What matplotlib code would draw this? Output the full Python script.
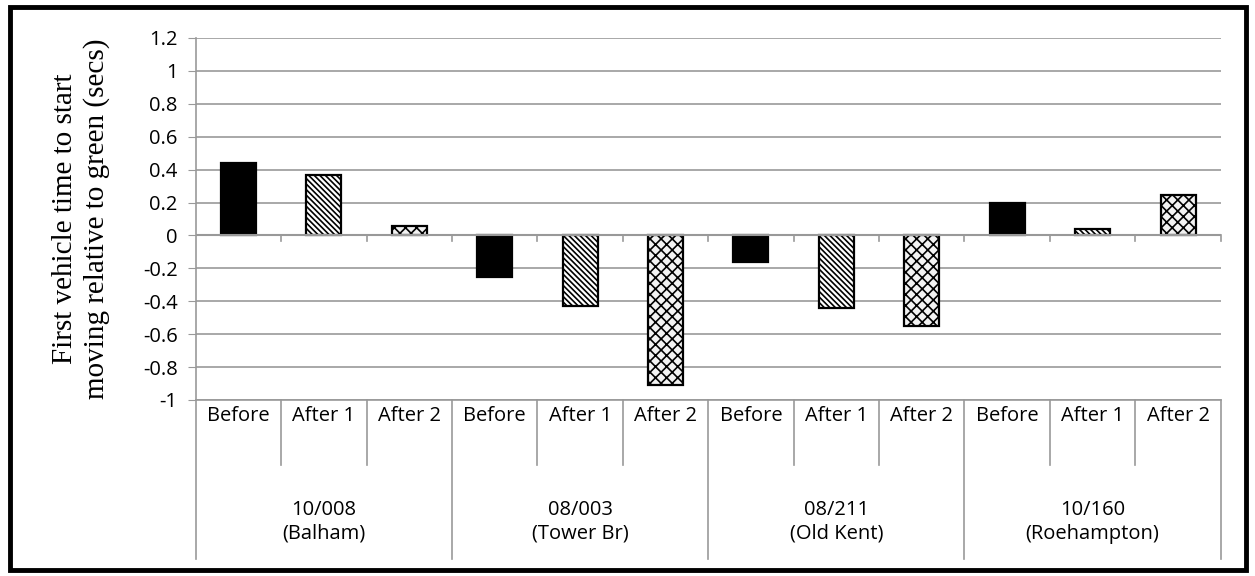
'''
Grouped bar chart of first vehicle start time
relative to green, recreated with matplotlib
'''

import numpy as np
import matplotlib.pyplot as plt
from matplotlib.patches import Rectangle

##################################

sites = ['10/008\n(Balham)', '08/003\n(Tower Br)', '08/211\n(Old Kent)', '10/160\n(Roehampton)']
phases = ['Before', 'After 1', 'After 2']

before = [0.44, -0.25, -0.16, 0.20]
after1 = [0.37, -0.43, -0.44, 0.04]
after2 = [0.055, -0.91, -0.55, 0.245]

yticks = [1.2, 1, 0.8, 0.6, 0.4, 0.2, 0, -0.2, -0.4, -0.6, -0.8, -1]

##################################

plt.rcParams['font.family'] = ['Open Sans', 'DejaVu Sans']
plt.rcParams['hatch.linewidth'] = 1.2

fig = plt.figure(figsize=(12.55, 5.76), dpi=100)
ax = fig.add_axes([0.156, 0.3056, 0.8167, 0.6285])

grey = '#999999'
nS = len(sites)
nP = len(phases)
width = 0.41
fs = 14.5

styles = [dict(color='black', hatch=None),
          dict(color='white', hatch='\\' * 6),
          dict(color='#f2f2f2', hatch='xxx')]

for j, vals in enumerate([before, after1, after2]):
    x = np.arange(nS) * nP + j + 0.5
    st = styles[j]
    ax.bar(x, vals, width=width, color=st['color'], edgecolor='black',
           hatch=st['hatch'], linewidth=1.6, zorder=3)

ax.set_xlim(0, nS * nP)
ax.set_ylim(-1, 1.2)
ax.set_yticks(yticks)
ax.set_yticklabels([('%g' % v) for v in yticks], fontsize=fs)
ax.yaxis.grid(True, color=grey, linewidth=1.2, zorder=0)
ax.tick_params(axis='y', length=6, color=grey, pad=7)
ax.set_xticks([])

for s in ['top', 'right', 'bottom']:
    ax.spines[s].set_visible(False)
ax.spines['left'].set_color(grey)
ax.spines['left'].set_linewidth(1.2)

# zero axis line and slot ticks
ax.axhline(0, color=grey, linewidth=1.5, zorder=4)
for k in range(1, nS * nP + 1):
    ax.plot([k, k], [0, -0.035], color=grey, linewidth=1.2, clip_on=False, zorder=4)

# category table below the axes
trans = ax.get_xaxis_transform()
ax.plot([0, nS * nP], [0, 0], color=grey, linewidth=1.2, transform=trans, clip_on=False)
ax.plot([0, 0], [0, -0.44], color=grey, linewidth=1.2, transform=trans, clip_on=False)
for k in range(1, nS * nP + 1):
    if k % nP == 0:
        ax.plot([k, k], [0, -0.44], color=grey, linewidth=1.2, transform=trans, clip_on=False)
    else:
        ax.plot([k, k], [0, -0.18], color=grey, linewidth=1.2, transform=trans, clip_on=False)

for i in range(nS):
    for j in range(nP):
        ax.text(i * nP + j + 0.5, -0.045, phases[j], transform=trans, ha='center',
                va='center', fontsize=fs)
    ax.text(i * nP + 1.5, -0.337, sites[i], transform=trans, ha='center',
            va='center', fontsize=fs, linespacing=1.25)

ax.set_ylabel('First vehicle time to start\nmoving relative to green (secs)',
              family=['Liberation Serif', 'DejaVu Serif'], fontsize=21,
              labelpad=24, linespacing=1.25)

# outer black frame
fig.patches.append(Rectangle((0.008, 0.01), 0.985, 0.978, transform=fig.transFigure,
                             fill=False, edgecolor='black', linewidth=3.5))

fig.savefig('out.png', dpi=100)
